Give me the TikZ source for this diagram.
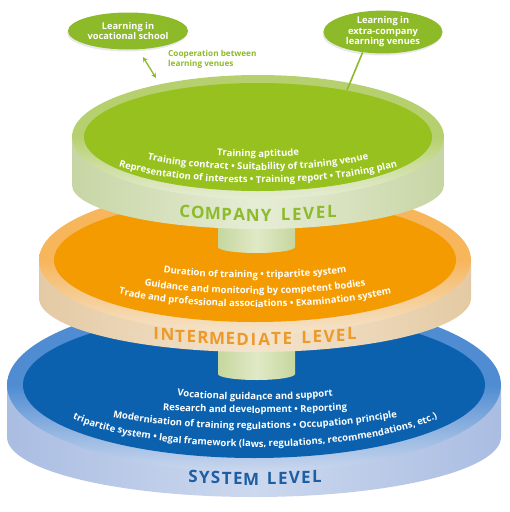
\documentclass[tikz,border=0pt]{standalone}
\usepackage{fontspec}
\setmainfont{Open Sans}
\usepackage{tikz}
\usetikzlibrary{shapes.geometric, arrows.meta, positioning}
\usetikzlibrary{decorations.text, shadows}
\usepackage{xcolor}

\definecolor{compgreen}{HTML}{96C11F}
\definecolor{compring}{HTML}{B7D06F}
\definecolor{compedge}{HTML}{C7D5A4}
\definecolor{compmid}{HTML}{E6EDD6}
\definecolor{complabel}{HTML}{8DBB2B}
\definecolor{intorange}{HTML}{F39B00}
\definecolor{intring}{HTML}{F7B55C}
\definecolor{intedge}{HTML}{E4CAA4}
\definecolor{intmid}{HTML}{F4E4CD}
\definecolor{intlabel}{HTML}{EE9A2A}
\definecolor{sysblue}{HTML}{0B61AE}
\definecolor{sysring}{HTML}{4F8CD2}
\definecolor{sysedge}{HTML}{AABDE2}
\definecolor{sysmid}{HTML}{CCD8EE}
\definecolor{syslabel}{HTML}{1D5EA4}
\definecolor{stemedge}{HTML}{C6D79E}
\definecolor{stemmid}{HTML}{E0E9C6}
\definecolor{callgreen}{HTML}{8DBA28}

\begin{document}
\begin{tikzpicture}[
        x=1pt, y=1pt,
        callout/.style={
          ellipse,
          fill=callgreen,
          text=white,
          inner sep=0pt,
          align=center,
          font=\fontsize{9.3}{10.5}\selectfont\bfseries,
          drop shadow={opacity=0.18, shadow xshift=-1pt, shadow yshift=-2pt}
        },
        callline/.style={
          draw=callgreen,
          line width=1.6pt
        },
        disctext/.style={
          decorate,
          decoration={text along path, text align=center, text color=white,
            text={|\fontsize{9.5}{9.5}\selectfont\bfseries|#1}}
        },
        leveltext/.style n args={2}{
          decorate,
          decoration={text effects along path, text={#2},
            text effects/.cd, fit text to path,
            every character/.style={text=#1, font=\fontsize{17}{17}\selectfont\bfseries}}
        },
        stem/.style={
          left color=stemedge,
          right color=stemedge,
          middle color=stemmid
        }
      ]

      \useasboundingbox (0,0) rectangle (510,-512);

      % System level
      \shade[left color=sysedge, right color=sysedge, middle color=sysmid]
        (7,-385) -- (7,-437) arc[start angle=180, end angle=360, x radius=247, y radius=60] -- (501,-385) -- cycle;
      \shade[top color=sysring, bottom color=sysmid, middle color=sysring]
        (254,-385) ellipse [x radius=247, y radius=87];
      \fill[sysblue] (254,-385) ellipse [x radius=231, y radius=73];

      % Stem
      \shade[stem] (218,-330) -- (218,-374) arc[start angle=180, end angle=360, x radius=38.5, y radius=6] -- (295,-330) -- cycle;

      % Intermediate level
      \shade[left color=intedge, right color=intedge, middle color=intmid]
        (39,-260) -- (39,-298) arc[start angle=180, end angle=360, x radius=216, y radius=54] -- (471,-260) -- cycle;
      \shade[top color=intring, bottom color=intmid, middle color=intring]
        (255,-260) ellipse [x radius=216, y radius=74];
      \fill[intorange] (255,-260) ellipse [x radius=201, y radius=62];

      % Stem
      \shade[stem] (218,-200) -- (218,-247) arc[start angle=180, end angle=360, x radius=38.5, y radius=6] -- (295,-200) -- cycle;

      % Company level
      \shade[left color=compedge, right color=compedge, middle color=compmid]
        (72,-137) -- (72,-185) arc[start angle=180, end angle=360, x radius=186, y radius=44] -- (444,-137) -- cycle;
      \shade[top color=compring, bottom color=compmid, middle color=compring]
        (258,-137) ellipse [x radius=186, y radius=62];
      \fill[compgreen] (258,-137) ellipse [x radius=174, y radius=54];

      % Company texts
      \path[disctext={Training aptitude}]
        (158,-138) arc[start angle=180, end angle=360, x radius=100, y radius=19];
      \path[disctext={Training contract • Suitability of training venue}]
        (113,-140) arc[start angle=180, end angle=360, x radius=145, y radius=30];
      \path[disctext={Representation of interests • Training report • Training plan}]
        (82,-140) arc[start angle=180, end angle=360, x radius=176, y radius=43];
      \path[leveltext={complabel}{COMPANY LEVEL}]
        (176.0,-210.3) arc[start angle=241.9, end angle=298.1, x radius=174, y radius=40];

      % Intermediate texts
      \path[disctext={Duration of training • tripartite system}]
        (137,-263) arc[start angle=180, end angle=360, x radius=118, y radius=15];
      \path[disctext={Guidance and monitoring by competent bodies}]
        (96,-264) arc[start angle=180, end angle=360, x radius=159, y radius=30];
      \path[disctext={Trade and professional associations • Examination system}]
        (65,-264) arc[start angle=180, end angle=360, x radius=190, y radius=43];
      \path[leveltext={intlabel}{INTERMEDIATE LEVEL}]
        (150.1,-332.8) arc[start angle=241.1, end angle=298.9, x radius=217, y radius=50];

      % System texts
      \path[disctext={Vocational guidance and support}]
        (152,-388) arc[start angle=180, end angle=360, x radius=103, y radius=12];
      \path[disctext={Research and development • Reporting}]
        (58,-387) arc[start angle=180, end angle=360, x radius=197, y radius=26];
      \path[disctext={Modernisation of training regulations • Occupation principle}]
        (54,-388) arc[start angle=180, end angle=360, x radius=201, y radius=41];
      \path[disctext={tripartite system • legal framework (laws, regulations, recommendations, etc.)}]
        (39,-386) arc[start angle=180, end angle=360, x radius=216, y radius=61];
      \path[leveltext={syslabel}{SYSTEM LEVEL}]
        (185.1,-475.3) arc[start angle=247.8, end angle=292.2, x radius=185, y radius=50];

      % Learning venues
      \node[callout, minimum width=120pt, minimum height=37pt] (school) at (128,-31) {Learning in\\vocational school};
      \node[callout, minimum width=119pt, minimum height=42pt] (venues) at (383,-32) {Learning in\\extra-company\\learning venues};
      \node[anchor=north west, inner sep=0pt, align=left, text=callgreen, font=\fontsize{8.2}{10}\selectfont\bfseries] (coop) at (168,-50) {Cooperation between\\learning venues};

      \coordinate (rim) at (347,-90);
      \coordinate (coopA) at (143,-57);
      \coordinate (coopB) at (156,-78);

      \draw[callline] (venues.225) -- (rim);
      \draw[callline, line width=1.3pt, {Stealth[length=5pt, width=5pt]}-{Stealth[length=5pt, width=5pt]}] (coopA) -- (coopB);

    \end{tikzpicture}
\end{document}
